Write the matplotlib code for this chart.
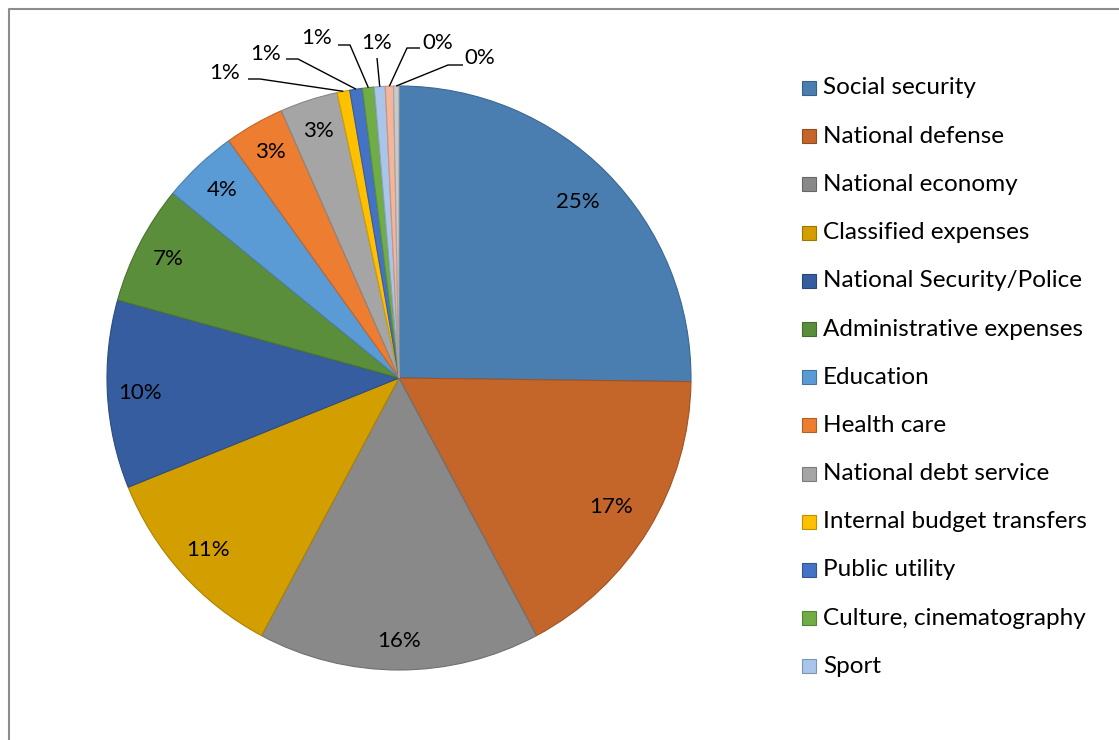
import matplotlib
matplotlib.use("Agg")
import matplotlib.pyplot as plt
from matplotlib.patches import Rectangle
import matplotlib.colors as mcolors
import numpy as np

plt.rcParams['font.family'] = ['Lato', 'DejaVu Sans']

# Budget expenditure structure, shares in percent
categories = [
    "Social security", "National defense", "National economy",
    "Classified expenses", "National Security/Police",
    "Administrative expenses", "Education", "Health care",
    "National debt service", "Internal budget transfers",
    "Public utility", "Culture, cinematography", "Sport",
    "Other (a)", "Other (b)",
]
shares = [25.2, 17.0, 15.6, 11.1, 10.4, 6.6, 4.2, 3.3, 3.2,
          0.7, 0.7, 0.65, 0.6, 0.45, 0.3]
colors = ["#4A7EB1", "#C4652A", "#898989", "#D39E00", "#355DA0",
          "#5A8E3A", "#5B9BD5", "#ED7D31", "#A5A5A5", "#FFC000",
          "#4472C4", "#70AD47", "#A9C5EA", "#F4B59B", "#C9C9C9"]
legend_count = 13  # entries listed in the legend


def darker(c, f=0.8):
    r, g, b = mcolors.to_rgb(c)
    return (r * f, g * f, b * f)


W, H = 1119, 740
fig = plt.figure(figsize=(W / 100, H / 100), dpi=100)
ax = fig.add_axes([0, 0, 1, 1])

cx, cy, R = 399, H - 378, 292
wedges, _ = ax.pie(shares, colors=colors, startangle=90, counterclock=False,
                   center=(cx, cy), radius=R,
                   wedgeprops=dict(linewidth=0.8))
for w, c in zip(wedges, colors):
    w.set_edgecolor(darker(c, 0.82))

ax.set_xlim(0, W)
ax.set_ylim(0, H)
ax.set_aspect('equal')
ax.axis('off')

pct_font = 16
legend_font = 17.5

def mid_angle(w):
    return np.deg2rad((w.theta1 + w.theta2) / 2)

# In-slice percentage labels for the larger slices
n_inside = 9
dists = [0.86, 0.85, 0.9, 0.88, 0.89, 0.89, 0.885, 0.89, 0.89]
for w, v, d in zip(wedges[:n_inside], shares[:n_inside], dists):
    a = mid_angle(w)
    ax.text(cx + d * R * np.cos(a), cy + d * R * np.sin(a), f"{v:.0f}%",
            ha='center', va='center', fontsize=pct_font, color='black')

# Callout labels for the thin slices at the top
callouts = [
    # text centre (px, y from top), elbow start, elbow end
    ((225, 73), (248, 79), (260, 79)),
    ((266, 54), (286, 59), (298, 59)),
    ((317, 38), (338, 45), (350, 45)),
    ((377, 43), None, (377, 58)),
    ((438, 43), (420, 48), (407, 48)),
    ((480, 58), (463, 65), (448, 65)),
]
for w, v, (tpos, e0, e1) in zip(wedges[n_inside:], shares[n_inside:], callouts):
    a = mid_angle(w)
    rx, ry = cx + R * np.cos(a), cy + R * np.sin(a)
    ax.text(tpos[0], H - tpos[1], f"{v:.0f}%", ha='center', va='center',
            fontsize=pct_font, color='black')
    xs, ys = [], []
    if e0 is not None:
        xs.append(e0[0]); ys.append(H - e0[1])
    xs += [e1[0], rx]
    ys += [H - e1[1], ry]
    ax.plot(xs, ys, color='black', lw=1.0, solid_capstyle='butt')

# Legend drawn as swatches and text
lx, ly0, step, sq = 802, 88, 48.2, 14
for i in range(legend_count):
    y = H - (ly0 + i * step)
    ax.add_patch(Rectangle((lx, y - sq / 2), sq, sq, facecolor=colors[i],
                           edgecolor=darker(colors[i], 0.75), lw=0.8))
    ax.text(lx + 21, y, categories[i], ha='left', va='center',
            fontsize=legend_font, color='black')

# Chart area border
ax.plot([9, 9, W + 5], [-5, H - 9, H - 9], color='#8C8C8C', lw=1.5,
        clip_on=False)

fig.savefig("out.png", dpi=100)
